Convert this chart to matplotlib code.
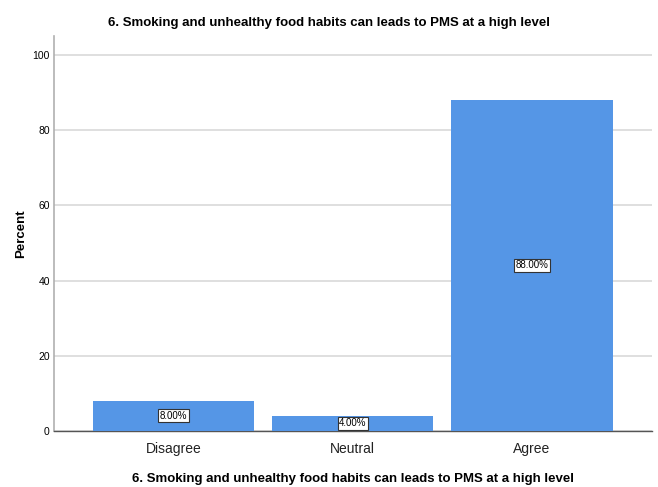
import matplotlib.pyplot as plt

categories = ["Disagree", "Neutral", "Agree"]
percent = [8.0, 4.0, 88.0]
yticks = [0, 20, 40, 60, 80, 100]
title = "6. Smoking and unhealthy food habits can leads to PMS at a high level"

plt.rcParams['font.family'] = ["Liberation Sans", "DejaVu Sans"]

fig = plt.figure(figsize=(6.58, 4.87), dpi=100)
ax = fig.add_axes([0.082, 0.115, 0.909, 0.811])

x = list(range(len(categories)))
ax.bar(x, percent, width=0.9, color="#5596e6", zorder=3)

# value labels sit halfway up each bar
for xi, v in zip(x, percent):
    ax.text(xi, v / 2, f"{v:.2f}%", ha="center", va="center", fontsize=7, zorder=4,
            bbox=dict(boxstyle="square,pad=0.15", fc="white", ec="#333333", lw=0.8))

ax.set_xlim(-0.667, 2.67)
ax.set_ylim(0, 105)
ax.set_yticks(yticks)
ax.set_xticks(x)
ax.set_xticklabels(categories, fontsize=10, color="#222222")
ax.tick_params(axis="y", labelsize=7.5, length=0, pad=3)
ax.tick_params(axis="x", length=0, pad=8)
ax.yaxis.grid(True, color="#d9d9d9", lw=1.2, zorder=0)

for s in ["top", "right"]:
    ax.spines[s].set_visible(False)
ax.spines["left"].set_color("#b0b0b0")
ax.spines["left"].set_linewidth(1.2)
ax.spines["bottom"].set_color("#555555")
ax.spines["bottom"].set_linewidth(1.0)

ax.set_ylabel("Percent", fontsize=9.5, fontweight="bold", labelpad=4)
ax.set_xlabel(title, fontsize=9.5, fontweight="bold", labelpad=12)
fig.text(0.5, 0.953, title, ha="center", va="center", fontsize=9.5, fontweight="bold")

fig.savefig("out.png", dpi=100)
